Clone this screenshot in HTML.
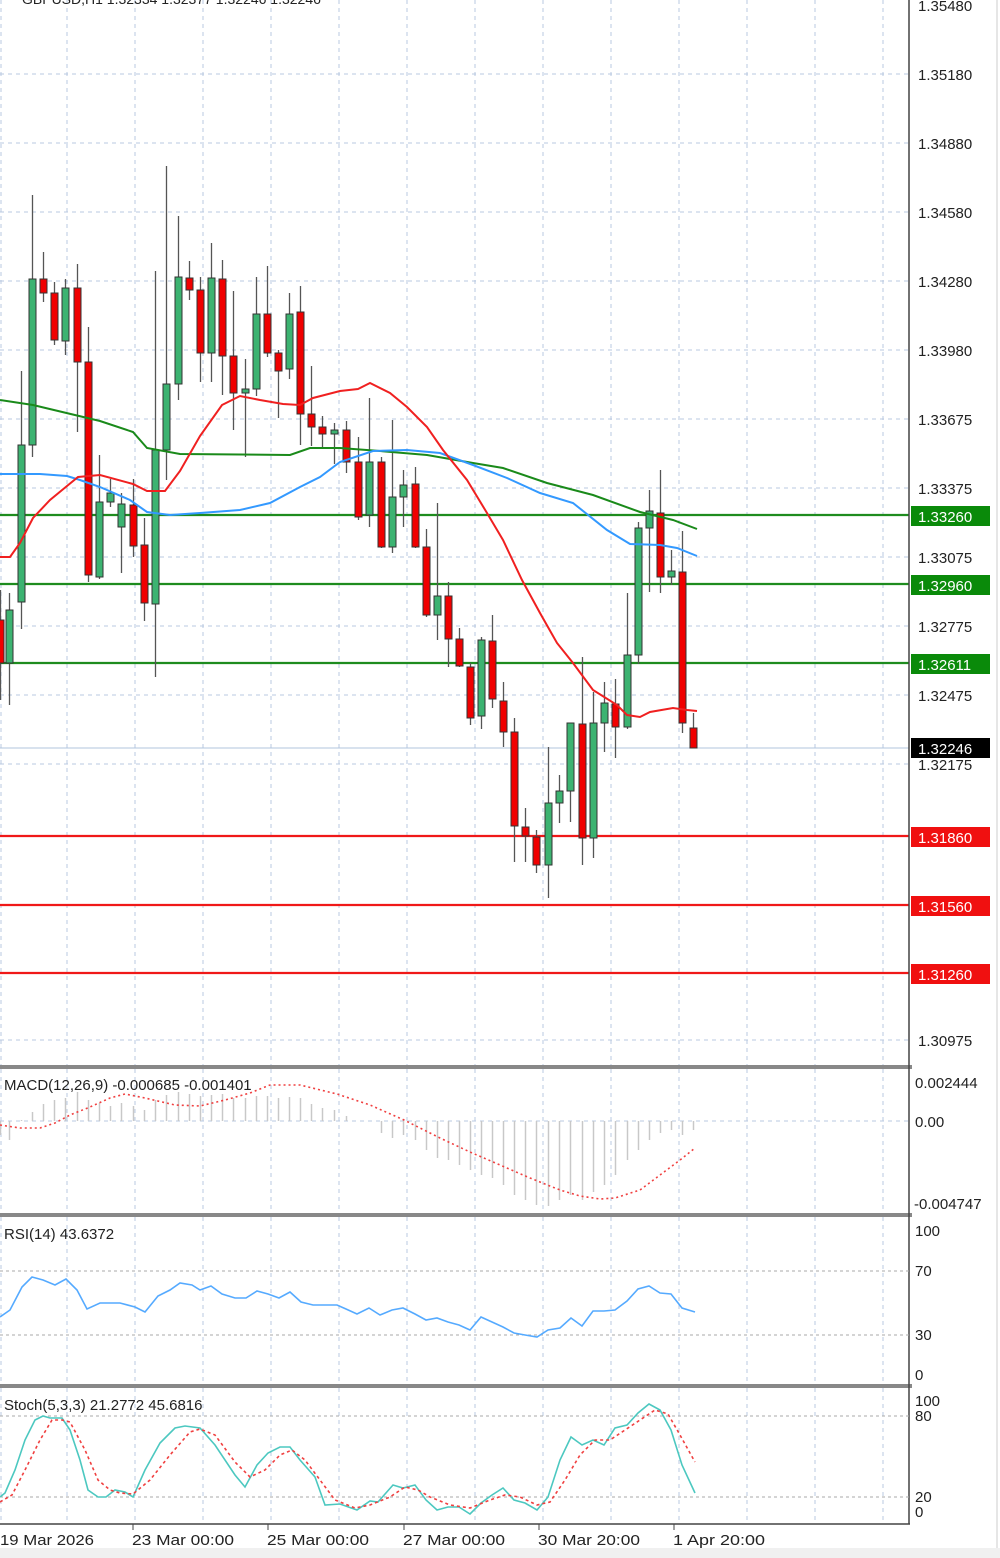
<!DOCTYPE html>
<html><head><meta charset="utf-8"><style>
html,body{margin:0;padding:0;background:#fff;}
svg{display:block;}
text{font-family:"Liberation Sans",Arial,sans-serif;fill:#222;}
.w text{fill:#fff;}
</style></head><body>
<svg id="s" width="1000" height="1558" viewBox="0 0 1000 1558" xmlns="http://www.w3.org/2000/svg">
<rect x="0" y="0" width="1000" height="1558" fill="#fff"/>
<rect x="0" y="1548" width="1000" height="10" fill="#f0f0f0"/>
<g id="grid" stroke="#b8c8e0" stroke-width="1" stroke-dasharray="4,4" fill="none"></g>
<text x="22" y="4" font-size="14">GBPUSD,H1  1.32334 1.32377 1.32246 1.32246</text>
<line x1="0" y1="748" x2="909" y2="748" stroke="#b0c4de" stroke-width="1"/>
<g stroke="#1e8c1e" stroke-width="2.2">
<line x1="0" y1="515" x2="909" y2="515"/>
<line x1="0" y1="584" x2="909" y2="584"/>
<line x1="0" y1="663" x2="909" y2="663"/>
</g>
<g stroke="#f01818" stroke-width="2.2">
<line x1="0" y1="836" x2="909" y2="836"/>
<line x1="0" y1="905" x2="909" y2="905"/>
<line x1="0" y1="973" x2="909" y2="973"/>
</g>
<g id="candles"></g>
<polyline fill="none" stroke="#1a8a1a" stroke-width="2" points="0,400 33,405 100,421 133,432 147,448 180,454 290,455 310,448 340,448 380,451 427,455 473,463 503,468 547,483 593,495 640,512 673,520 697,529"/>
<polyline fill="none" stroke="#3399ff" stroke-width="2" points="0,474 40,474 67,476 80,480 100,487 130,500 147,512 170,515 200,513 240,510 270,503 300,487 320,477 340,462 373,451 407,450 440,453 473,465 507,478 540,493 573,503 607,530 630,544 660,545 677,548 697,556"/>
<polyline fill="none" stroke="#f02020" stroke-width="2" points="0,557 10,557 20,543 33,518 50,500 67,486 78,477 100,475 133,484 147,491 165,491 180,471 200,436 222,405 240,396 260,400 283,404 300,405 313,398 340,391 358,389 370,383 390,393 407,407 427,427 443,450 467,480 487,513 503,540 522,580 540,613 557,643 573,663 593,690 617,705 627,715 640,717 650,712 673,708 687,710 697,711"/>
<g fill="#888">
<rect x="0" y="1065" width="912" height="4"/>
<rect x="0" y="1213" width="912" height="4"/>
<rect x="0" y="1384" width="912" height="4"/>
</g>
<line x1="909" y1="0" x2="909" y2="1524" stroke="#444" stroke-width="1.5"/>
<line x1="0" y1="1524" x2="910" y2="1524" stroke="#444" stroke-width="1.5"/>
<line x1="997" y1="0" x2="997" y2="1548" stroke="#ccc" stroke-width="1"/>
<line x1="0" y1="1121" x2="909" y2="1121" stroke="#b8c8e0" stroke-dasharray="4,4"/>
<g id="hist" stroke="#c8c8c8" stroke-width="1.5"></g>
<polyline fill="none" stroke="#f04040" stroke-width="1.6" stroke-dasharray="2,3" points="0,1125 20,1128 40,1128 55,1123 70,1115 90,1107 110,1098 125,1094 145,1098 175,1105 200,1106 225,1100 250,1093 270,1085 300,1085 337,1094 370,1105 404,1120 440,1138 470,1152 500,1165 530,1178 560,1190 580,1196 600,1199 615,1198 640,1190 660,1175 680,1160 695,1148"/>
<text x="4" y="1090" font-size="15">MACD(12,26,9) -0.000685 -0.001401</text>
<g stroke="#aaa" stroke-dasharray="3,3"><line x1="0" y1="1271" x2="909" y2="1271"/><line x1="0" y1="1335" x2="909" y2="1335"/></g>
<polyline fill="none" stroke="#55aaff" stroke-width="1.6" points="0,1317 10,1310 22,1287 32,1277 43,1280 55,1285 66,1279 77,1290 87,1309 100,1303 120,1303 135,1307 145,1312 158,1296 170,1290 180,1283 192,1285 200,1290 211,1286 222,1294 235,1298 246,1298 257,1291 268,1294 279,1298 290,1292 301,1302 313,1305 337,1305 346,1309 357,1314 369,1308 380,1315 392,1310 403,1308 415,1314 426,1320 437,1318 448,1322 459,1325 470,1330 481,1317 492,1322 503,1327 514,1333 525,1335 537,1337 548,1330 560,1328 571,1318 582,1326 593,1311 604,1311 615,1310 627,1301 638,1289 649,1286 660,1293 671,1294 682,1308 695,1312"/>
<text x="4" y="1239" font-size="15">RSI(14) 43.6372</text>
<g stroke="#aaa" stroke-dasharray="3,3"><line x1="0" y1="1416" x2="909" y2="1416"/><line x1="0" y1="1497" x2="909" y2="1497"/></g>
<polyline fill="none" stroke="#4cc8c0" stroke-width="1.6" points="0,1497 5,1493 15,1470 25,1440 35,1420 43,1416 50,1418 62,1418 70,1430 80,1460 88,1490 98,1497 106,1497 115,1490 125,1492 133,1497 145,1470 160,1443 175,1428 185,1426 200,1428 215,1445 235,1475 245,1487 257,1465 268,1453 280,1447 290,1447 300,1460 315,1477 325,1505 340,1504 357,1510 370,1501 378,1502 393,1485 403,1488 415,1485 426,1500 437,1510 448,1507 459,1507 470,1514 481,1503 492,1495 503,1488 514,1500 525,1503 537,1510 548,1497 560,1460 571,1437 582,1445 593,1440 604,1445 615,1428 627,1425 638,1413 649,1404 660,1410 671,1430 682,1465 695,1493"/>
<polyline fill="none" stroke="#f04040" stroke-width="1.6" stroke-dasharray="3,3" points="0,1502 12,1495 25,1470 40,1440 52,1420 62,1420 70,1422 85,1450 98,1480 110,1490 120,1493 133,1494 150,1480 170,1455 190,1432 200,1429 215,1435 235,1462 250,1477 265,1470 280,1455 292,1450 305,1460 320,1480 335,1500 355,1508 370,1505 390,1497 405,1487 418,1490 430,1497 450,1505 470,1508 490,1500 505,1495 520,1497 537,1505 550,1502 565,1480 580,1455 595,1440 610,1440 625,1430 640,1420 655,1410 668,1414 680,1435 695,1462"/>
<text x="4" y="1410" font-size="15">Stoch(5,3,3) 21.2772 45.6816</text>
<g font-size="15">
<text x="918" y="11">1.35480</text>
<text x="918" y="80">1.35180</text>
<text x="918" y="149">1.34880</text>
<text x="918" y="218">1.34580</text>
<text x="918" y="287">1.34280</text>
<text x="918" y="356">1.33980</text>
<text x="918" y="425">1.33675</text>
<text x="918" y="494">1.33375</text>
<text x="918" y="563">1.33075</text>
<text x="918" y="632">1.32775</text>
<text x="918" y="701">1.32475</text>
<text x="918" y="770">1.32175</text>
<text x="918" y="1046">1.30975</text>
<text x="915" y="1088">0.002444</text>
<text x="915" y="1127">0.00</text>
<text x="914" y="1209">-0.004747</text>
<text x="915" y="1236">100</text>
<text x="915" y="1276">70</text>
<text x="915" y="1340">30</text>
<text x="915" y="1380">0</text>
<text x="915" y="1406">100</text>
<text x="915" y="1421">80</text>
<text x="915" y="1502">20</text>
<text x="915" y="1517">0</text>
</g>
<g class="w" font-size="15">
<rect x="911" y="506" width="79" height="20" fill="#0a8a0a"/><text x="918" y="522">1.33260</text>
<rect x="911" y="575" width="79" height="20" fill="#0a8a0a"/><text x="918" y="591">1.32960</text>
<rect x="911" y="654" width="79" height="20" fill="#0a8a0a"/><text x="918" y="670">1.32611</text>
<rect x="911" y="738" width="79" height="20" fill="#000"/><text x="918" y="754">1.32246</text>
<rect x="911" y="827" width="79" height="20" fill="#f01010"/><text x="918" y="843">1.31860</text>
<rect x="911" y="896" width="79" height="20" fill="#f01010"/><text x="918" y="912">1.31560</text>
<rect x="911" y="964" width="79" height="20" fill="#f01010"/><text x="918" y="980">1.31260</text>
</g>
<g stroke="#444"><line x1="133" y1="1524" x2="133" y2="1530"/><line x1="268" y1="1524" x2="268" y2="1530"/><line x1="404" y1="1524" x2="404" y2="1530"/><line x1="539" y1="1524" x2="539" y2="1530"/><line x1="674" y1="1524" x2="674" y2="1530"/></g>
<g font-size="15">
<text x="0" y="1545" textLength="94" lengthAdjust="spacingAndGlyphs">19 Mar 2026</text>
<text x="132" y="1545" textLength="102" lengthAdjust="spacingAndGlyphs">23 Mar 00:00</text>
<text x="267" y="1545" textLength="102" lengthAdjust="spacingAndGlyphs">25 Mar 00:00</text>
<text x="403" y="1545" textLength="102" lengthAdjust="spacingAndGlyphs">27 Mar 00:00</text>
<text x="538" y="1545" textLength="102" lengthAdjust="spacingAndGlyphs">30 Mar 20:00</text>
<text x="673" y="1545" textLength="92" lengthAdjust="spacingAndGlyphs">1 Apr 20:00</text>
</g>
</svg>
<script>
(function(){
var NS="http://www.w3.org/2000/svg";
function el(p,t,a){var e=document.createElementNS(NS,t);for(var k in a)e.setAttribute(k,a[k]);p.appendChild(e);return e;}
var g=document.getElementById('grid');
[74,143,212,281,350,419,488,557,626,695,764,1040].forEach(function(y){el(g,'line',{x1:0,y1:y,x2:909,y2:y});});
[1,67,135,203,271,339,407,475,543,611,679,747,815,883].forEach(function(x){el(g,'line',{x1:x,y1:0,x2:x,y2:1065});el(g,'line',{x1:x,y1:1069,x2:x,y2:1213});el(g,'line',{x1:x,y1:1217,x2:x,y2:1384});el(g,'line',{x1:x,y1:1388,x2:x,y2:1524});});
var C=[
[0,620,663,590,700,0],[9,610,663,593,705,1],[21,445,602,371,629,1],[32,279,445,195,457,1],[43,279,293,252,302,0],[54,293,340,282,345,0],[65,288,341,279,355,1],[77,288,362,264,432,0],[88,362,575,327,582,0],[99,502,577,455,579,1],[110,493,502,479,507,1],[121,504,527,493,573,1],[133,505,546,479,557,0],[144,545,603,518,621,0],[155,450,604,271,677,1],[166,384,450,166,480,1],[178,277,384,216,400,1],[189,278,290,261,300,0],[200,290,353,277,382,0],[211,278,353,243,382,1],[222,279,356,260,395,0],[233,356,393,291,430,0],[245,389,393,359,457,1],[256,314,389,277,396,1],[267,314,353,266,357,0],[278,353,371,350,418,0],[289,314,369,293,379,1],[300,312,414,286,445,0],[311,414,427,366,446,0],[322,427,434,416,448,0],[334,430,434,423,464,1],[346,430,462,421,473,0],[358,462,517,437,520,0],[369,462,515,398,527,1],[381,462,547,457,548,0],[392,497,547,420,553,1],[403,485,497,470,527,1],[415,484,547,467,548,0],[426,547,615,529,617,0],[437,596,615,503,640,1],[448,596,639,582,667,0],[459,639,666,628,667,0],[470,667,718,663,725,0],[481,640,716,637,729,1],[492,641,699,615,708,0],[503,701,732,682,747,0],[514,732,826,718,862,0],[525,827,836,808,862,0],[536,837,865,830,873,0],[548,803,865,747,898,1],[559,791,803,775,823,1],[570,723,791,723,822,1],[582,724,838,657,865,0],[593,723,838,692,858,1],[604,703,723,682,752,1],[615,704,727,679,758,0],[627,655,727,593,729,1],[638,528,655,522,664,1],[649,511,528,490,592,1],[660,513,577,470,593,0],[671,571,577,550,585,1],[682,572,723,531,733,0],[693,728,748,713,748,0]];
var cg=document.getElementById('candles');
C.forEach(function(c){
 el(cg,'line',{x1:c[0]+0.5,y1:c[3],x2:c[0]+0.5,y2:c[4],stroke:'#555','stroke-width':1.3});
 el(cg,'rect',{x:c[0]-3,y:c[1],width:7,height:Math.max(2,c[2]-c[1]),fill:c[5]?'#3cb371':'#f00000',stroke:'#333','stroke-width':1});
});
var hg=document.getElementById('hist');
var H=[[0,1135],[9,1140],[21,1120],[32,1112],[43,1104],[54,1100],[65,1098],[77,1092],[88,1100],[99,1103],[110,1106],[121,1103],[133,1106],[144,1110],[155,1100],[166,1095],[178,1092],[189,1094],[200,1096],[211,1095],[222,1094],[233,1098],[245,1098],[256,1096],[267,1096],[278,1098],[289,1097],[300,1098],[311,1104],[322,1108],[334,1110],[346,1116],[358,1121],[369,1121],[381,1133],[392,1138],[403,1135],[415,1140],[426,1150],[437,1158],[448,1160],[459,1165],[470,1170],[481,1175],[492,1178],[503,1185],[514,1195],[525,1200],[536,1205],[548,1206],[559,1200],[570,1195],[582,1200],[593,1192],[604,1185],[615,1175],[627,1160],[638,1150],[649,1140],[660,1133],[671,1130],[682,1135],[693,1130]];
H.forEach(function(h){el(hg,'line',{x1:h[0]+0.5,y1:1121,x2:h[0]+0.5,y2:h[1]});});
})();
</script>
</body></html>
